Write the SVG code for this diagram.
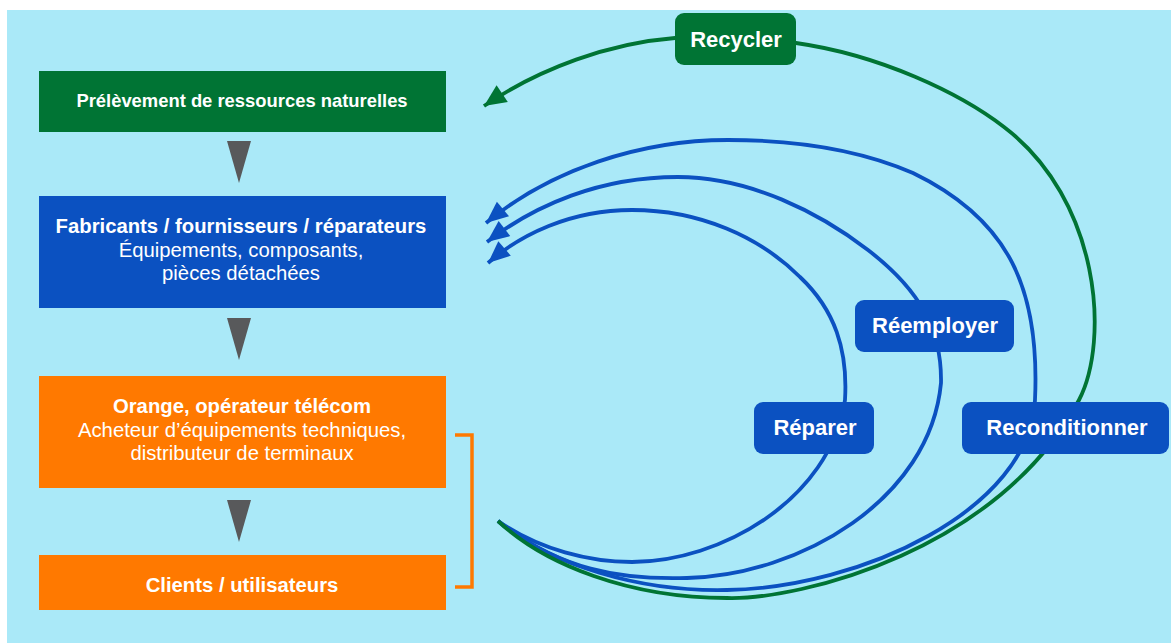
<svg xmlns="http://www.w3.org/2000/svg" width="1171" height="643" viewBox="0 0 1171 643">
  <style>
    .t { font-family: "Liberation Sans", Arial, Helvetica, sans-serif; fill: #ffffff; text-anchor: middle; }
    .b { font-weight: bold; }
    .lbl { font-family: "Liberation Sans", Arial, Helvetica, sans-serif; fill: #ffffff; text-anchor: middle; font-weight: bold; font-size: 22px; }
    .g { fill: none; stroke: #007434; stroke-width: 3.8; }
    .bl { fill: none; stroke: #0B51C1; stroke-width: 3.8; }
    .tri { fill: #58595B; }
  </style>
  <defs>
    <marker id="ag" markerUnits="userSpaceOnUse" viewBox="0 0 24 24" markerWidth="24" markerHeight="24" refX="22" refY="12" orient="auto" overflow="visible">
      <path d="M0,2 L22,12 L0,22 Z" fill="#007434"/>
    </marker>
    <marker id="ab" markerUnits="userSpaceOnUse" viewBox="0 0 24 24" markerWidth="24" markerHeight="24" refX="22" refY="12" orient="auto" overflow="visible">
      <path d="M0,2.5 L22,12 L0,21.5 Z" fill="#0B51C1"/>
    </marker>
  </defs>
  <rect x="0" y="0" width="1171" height="643" fill="#ffffff"/>
  <rect x="7" y="10" width="1164" height="633" fill="#AAE9F8"/>

  <g id="connectors">
    <path class="tri" d="M227,141 L251,141 L239,183 Z"/>
    <path class="tri" d="M227,318 L251,318 L239,360 Z"/>
    <path class="tri" d="M227,500 L251,500 L239,542 Z"/>
    <path d="M455,435 H472 V587 H455" fill="none" stroke="#FF7900" stroke-width="3.5"/>
    <!-- Réparer loop -->
    <path class="bl" marker-end="url(#ab)" d="M498,521 C540,550 590,562 632,562 C720,562 830,500 845,400 C848,350 835,310 800,277 C760,237 700,210 632,210 C570,210 520,235 488,263"/>
    <!-- Réemployer loop -->
    <path class="bl" marker-end="url(#ab)" d="M498,521 C560,570 620,580 687,578 C800,575 930,500 941,383 C942,330 920,290 868,250 C820,213 750,177 678,177 C600,177 535,205 487,242"/>
    <!-- Reconditionner loop -->
    <path class="bl" marker-end="url(#ab)" d="M498,521 C550,565 640,592 727,590 C860,588 1030,510 1035,400 C1040,290 1010,220 913,173 C860,150 800,140 728,140 C640,140 550,170 486,223"/>
    <!-- Recycler loop -->
    <path class="g" marker-end="url(#ag)" d="M498,521 C545,565 630,598 727,598 C800,600 1000,550 1079,400 C1110,340 1100,200 1004,127 C960,93 880,55 796,43 C760,38 710,36 675,38 C610,43 540,68 484,106"/>
  </g>

  <g id="n-prelevement">
    <rect x="39" y="71" width="407" height="61" fill="#007434"/>
    <text class="t b" x="242" y="107" font-size="18.4">Prélèvement de ressources naturelles</text>
  </g>
  <g id="n-fabricants">
    <rect x="39" y="196" width="407" height="112" fill="#0B51C1"/>
    <text class="t" x="241" y="233" font-size="20.3"><tspan class="b">Fabricants / fournisseurs / réparateurs</tspan><tspan x="241" dy="24">Équipements, composants,</tspan><tspan x="241" dy="23">pièces détachées</tspan></text>
  </g>
  <g id="n-orange">
    <rect x="39" y="376" width="407" height="112" fill="#FF7900"/>
    <text class="t" x="242" y="413" font-size="20.3"><tspan class="b">Orange, opérateur télécom</tspan><tspan x="242" dy="24">Acheteur d’équipements techniques,</tspan><tspan x="242" dy="23">distributeur de terminaux</tspan></text>
  </g>
  <g id="n-clients">
    <rect x="39" y="555" width="407" height="55" fill="#FF7900"/>
    <text class="t b" x="242" y="592" font-size="20.3">Clients / utilisateurs</text>
  </g>

  <g id="n-recycler">
    <rect x="675" y="13" width="121" height="52" rx="9" fill="#007434"/>
    <text class="lbl" x="736" y="47">Recycler</text>
  </g>
  <g id="n-reemployer">
    <rect x="855" y="300" width="159" height="52" rx="9" fill="#0B51C1"/>
    <text class="lbl" x="935" y="333">Réemployer</text>
  </g>
  <g id="n-reparer">
    <rect x="754" y="402" width="120" height="52" rx="9" fill="#0B51C1"/>
    <text class="lbl" x="815" y="435">Réparer</text>
  </g>
  <g id="n-reconditionner">
    <rect x="962" y="402" width="207" height="52" rx="9" fill="#0B51C1"/>
    <text class="lbl" x="1067" y="435">Reconditionner</text>
  </g>
</svg>
